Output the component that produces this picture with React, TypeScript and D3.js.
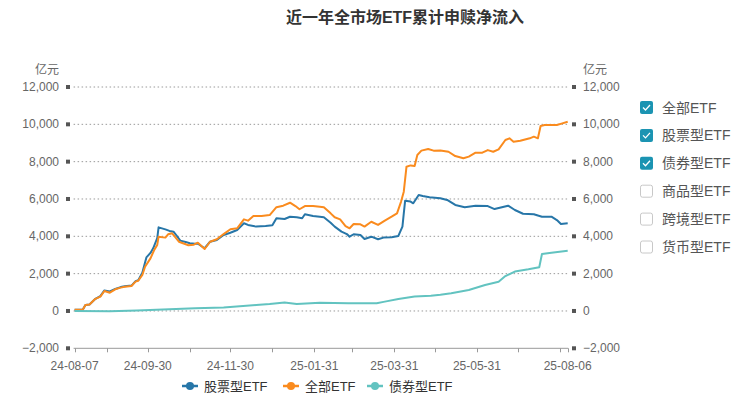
import React from "react";
import * as d3 from "d3";

const TITLE = "近一年全市场ETF累计申赎净流入";
const UNIT = "亿元";

const ALL_DATES = [
  "2024-08-07","2024-08-13","2024-08-15","2024-08-18","2024-08-22","2024-08-26","2024-08-29","2024-09-02","2024-09-06","2024-09-10",
  "2024-09-13","2024-09-18","2024-09-21","2024-09-23","2024-09-26","2024-09-28","2024-10-02","2024-10-05","2024-10-07","2024-10-08",
  "2024-10-13","2024-10-15","2024-10-18","2024-10-20","2024-10-23","2024-10-26","2024-10-30","2024-11-03","2024-11-06","2024-11-11",
  "2024-11-15","2024-11-20","2024-11-25","2024-11-30","2024-12-05","2024-12-10","2024-12-13","2024-12-17","2024-12-23","2024-12-29",
  "2025-01-03","2025-01-08","2025-01-13","2025-01-17","2025-01-20","2025-01-24","2025-01-30","2025-02-04","2025-02-07","2025-02-12",
  "2025-02-15","2025-02-19","2025-02-23","2025-02-26","2025-03-01","2025-03-06","2025-03-09","2025-03-14","2025-03-19","2025-03-24",
  "2025-03-29","2025-04-02","2025-04-05","2025-04-07","2025-04-09","2025-04-12","2025-04-15","2025-04-17","2025-04-20","2025-04-25",
  "2025-04-29","2025-05-04","2025-05-10","2025-05-15","2025-05-21","2025-05-25","2025-05-30","2025-06-04","2025-06-08","2025-06-12",
  "2025-06-16","2025-06-21","2025-06-24","2025-06-27","2025-07-02","2025-07-09","2025-07-12","2025-07-15","2025-07-17","2025-07-20",
  "2025-07-29","2025-08-02","2025-08-06"
];
const ALL_VALUES = [
  60,60,320,350,630,770,1070,980,1160,1250,
  1300,1340,1570,1620,1930,2370,2820,3300,3540,3980,
  3930,4110,4160,3980,3710,3630,3520,3550,3660,3320,
  3710,3840,4120,4380,4430,4910,4840,5090,5090,5140,
  5560,5640,5800,5620,5450,5620,5620,5590,5560,5230,
  5020,4910,4550,4430,4660,4640,4520,4780,4610,4840,
  5050,5230,5860,6390,7730,7800,7770,8360,8590,8680,
  8590,8600,8530,8300,8180,8270,8480,8480,8620,8530,
  8660,9160,9250,9070,9120,9250,9340,9250,9910,9960,
  9960,10050,10140
];

const STOCK_DATES = [
  "2024-08-07","2024-08-13","2024-08-15","2024-08-18","2024-08-22","2024-08-26","2024-08-29","2024-09-02","2024-09-06","2024-09-10",
  "2024-09-13","2024-09-18","2024-09-21","2024-09-23","2024-09-26","2024-09-28","2024-09-29","2024-10-02","2024-10-04","2024-10-07",
  "2024-10-08","2024-10-13","2024-10-16","2024-10-19","2024-10-21","2024-10-24","2024-10-28","2024-10-31","2024-11-04","2024-11-06",
  "2024-11-11","2024-11-15","2024-11-20","2024-11-25","2024-11-30","2024-12-05","2024-12-10","2024-12-13","2024-12-19","2024-12-26",
  "2024-12-31","2025-01-03","2025-01-09","2025-01-13","2025-01-18","2025-01-22","2025-01-24","2025-01-30","2025-02-04","2025-02-07",
  "2025-02-12","2025-02-15","2025-02-20","2025-02-24","2025-02-26","2025-03-01","2025-03-06","2025-03-09","2025-03-14","2025-03-19",
  "2025-03-23","2025-03-29","2025-04-03","2025-04-06","2025-04-07","2025-04-08","2025-04-12","2025-04-14","2025-04-18","2025-04-21",
  "2025-04-26","2025-05-04","2025-05-09","2025-05-15","2025-05-22","2025-05-30","2025-06-08","2025-06-13","2025-06-23","2025-06-28",
  "2025-07-04","2025-07-12","2025-07-18","2025-07-25","2025-07-29","2025-08-01","2025-08-06"
];
const STOCK_VALUES = [
  60,60,320,350,630,800,1100,1050,1180,1280,
  1320,1360,1600,1650,2050,2600,2870,3110,3360,3900,
  4480,4370,4290,4250,4070,3770,3700,3630,3600,3600,
  3360,3710,3800,4070,4190,4340,4700,4610,4520,4550,
  4590,4970,4930,5050,5020,4970,5180,5090,5050,5020,
  4730,4520,4250,4120,3980,4110,4070,3860,3980,3840,
  3930,3950,4020,4520,5230,5910,5860,5770,6210,6160,
  6090,6040,5950,5680,5560,5640,5620,5460,5640,5410,
  5210,5180,5050,5050,4870,4660,4700
];

const BOND_DATES = [
  "2024-08-07","2024-09-02","2024-09-22","2024-10-16","2024-11-04","2024-11-25","2024-12-19","2024-12-29","2025-01-09","2025-01-18",
  "2025-02-04","2025-02-25","2025-03-18","2025-03-24","2025-04-03","2025-04-15","2025-04-27","2025-05-04","2025-05-12","2025-05-25",
  "2025-06-06","2025-06-16","2025-06-21","2025-06-28","2025-07-08","2025-07-16","2025-07-18","2025-07-25","2025-08-06"
];
const BOND_VALUES = [
  0,-20,20,90,140,180,320,370,460,370,
  440,410,410,500,640,770,820,870,950,1120,
  1390,1570,1870,2110,2230,2340,3050,3120,3230
];

const Y_TICKS = [-2000, 0, 2000, 4000, 6000, 8000, 10000, 12000];
const X_TICK_DATES = [
  "2024-08-07","2024-08-31","2024-09-30","2024-10-31","2024-11-30","2024-12-31","2025-01-31",
  "2025-02-28","2025-03-31","2025-04-30","2025-05-31","2025-06-30","2025-07-31","2025-08-06"
];
const X_LABELS = ["24-08-07","24-09-30","24-11-30","25-01-31","25-03-31","25-05-31","25-08-06"];

const SERIES_NAMES = ["股票型ETF", "全部ETF", "债券型ETF"];
const SERIES_COLORS = ["#2776a8", "#fa8b1e", "#62c3c0"];
const SIDE_LEGEND = ["全部ETF", "股票型ETF", "债券型ETF", "商品型ETF", "跨境型ETF", "货币型ETF"];
const SIDE_CHECKED = [true, true, true, false, false, false];

const FONT = "'Liberation Sans', Arial, 'Noto Sans CJK SC', sans-serif";

export default function App() {
  const parse = d3.timeParse("%Y-%m-%d");
  const parseShort = d3.timeParse("%y-%m-%d");
  const x = d3.scaleTime()
    .domain([parse("2024-08-07") as Date, parse("2025-08-06") as Date])
    .range([74.6, 567.7]);
  const y = d3.scaleLinear().domain([-2000, 12000]).range([348.3, 87]);
  const fmt = d3.format(",");

  const mk = (dates: string[], vals: number[]) =>
    dates.map((d, i) => ({ d: parse(d) as Date, v: vals[i] }));
  const series = [
    mk(STOCK_DATES, STOCK_VALUES),
    mk(ALL_DATES, ALL_VALUES),
    mk(BOND_DATES, BOND_VALUES),
  ];
  const line = d3.line<{ d: Date; v: number }>()
    .x((p) => x(p.d))
    .y((p) => y(p.v))
    .curve(d3.curveLinear);

  const [x0, x1] = x.range();
  const legendX = [190, 291, 375];

  return (
    <svg width={745} height={399} style={{ position: "absolute", left: 0, top: 0, background: "#fff" }} fontFamily={FONT}>
      <text x={405} y={23} textAnchor="middle" fontSize={16} fontWeight="bold" fill="#333">{TITLE}</text>

      <text x={59} y={74} textAnchor="end" fontSize={12} fill="#666">{UNIT}</text>
      <text x={583} y={74} textAnchor="start" fontSize={12} fill="#666">{UNIT}</text>

      {Y_TICKS.map((t) => (
        <g key={t}>
          {t !== -2000 && (
            <line x1={x0 - 1} x2={x1} y1={y(t)} y2={y(t)} stroke="#9a9a9a" strokeWidth={1} strokeDasharray="1.5,2.5" />
          )}
          <rect x={66} y={y(t) - 2} width={4} height={4} fill="#555" />
          <rect x={572} y={y(t) - 2} width={4} height={4} fill="#555" />
          <text x={59} y={y(t) + 4} textAnchor="end" fontSize={12} fill="#666">{fmt(t)}</text>
          <text x={583} y={y(t) + 4} textAnchor="start" fontSize={12} fill="#666">{fmt(t)}</text>
        </g>
      ))}

      <line x1={x0 - 1} x2={x1 + 0.5} y1={y(-2000)} y2={y(-2000)} stroke="#999" strokeWidth={1} />
      {X_TICK_DATES.map((d) => {
        const xx = Math.round(x(parse(d) as Date)) + 0.5;
        return <line key={d} x1={xx} x2={xx} y1={y(-2000)} y2={y(-2000) + 4} stroke="#999" strokeWidth={1} />;
      })}
      {X_LABELS.map((l) => (
        <text key={l} x={x(parseShort(l) as Date)} y={370} textAnchor="middle" fontSize={12} fill="#666">{l}</text>
      ))}

      {series.map((s, i) => (
        <path key={i} d={line(s) || ""} fill="none" stroke={SERIES_COLORS[i]} strokeWidth={2} strokeLinejoin="round" />
      ))}

      {SERIES_NAMES.map((n, i) => (
        <g key={n}>
          <line x1={legendX[i] - 8} x2={legendX[i] + 8} y1={386} y2={386} stroke={SERIES_COLORS[i]} strokeWidth={2.5} />
          <circle cx={legendX[i]} cy={386} r={4} fill={SERIES_COLORS[i]} />
          <text x={legendX[i] + 14} y={390.5} fontSize={13} fill="#333">{n}</text>
        </g>
      ))}

      {SIDE_LEGEND.map((n, i) => {
        const cy = 107.5 + i * 27.9;
        return (
          <g key={n}>
            {SIDE_CHECKED[i] ? (
              <g>
                <rect x={640} y={cy - 6.5} width={13} height={13} rx={2} fill="#1b94b2" />
                <polyline points={`${643},${cy} ${645.5},${cy + 2.5} ${650},${cy - 2.5}`} fill="none" stroke="#fff" strokeWidth={1.3} />
              </g>
            ) : (
              <rect x={640.5} y={cy - 6} width={12} height={12} rx={2} fill="#fff" stroke="#c8c8c8" strokeWidth={1} />
            )}
            <text x={662} y={cy + 5} fontSize={14} fill="#555">{n}</text>
          </g>
        );
      })}
    </svg>
  );
}
